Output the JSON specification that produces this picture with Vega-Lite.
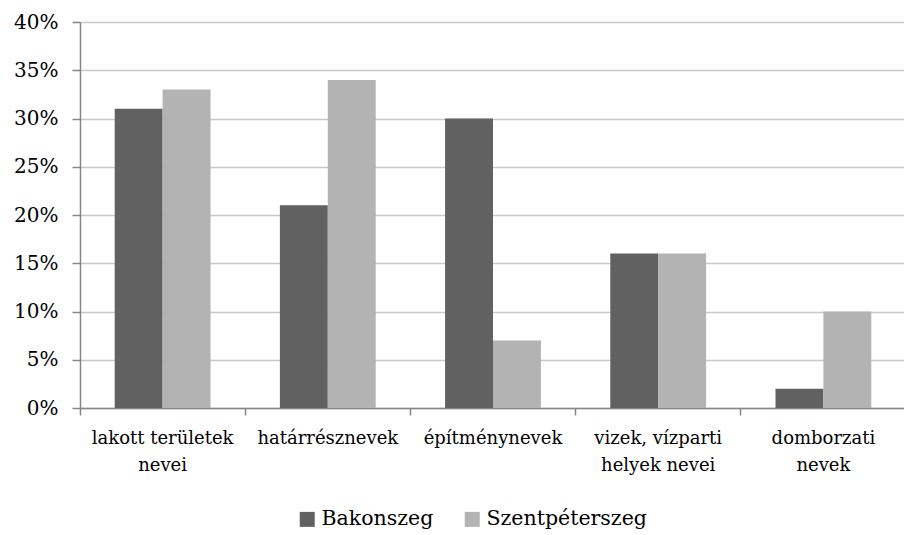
{
  "$schema": "https://vega.github.io/schema/vega-lite/v6.json",
  "width": 826,
  "height": 386,
  "autosize": "none",
  "padding": {"left": 80, "top": 22, "right": 0, "bottom": 127},
  "background": "white",
  "data": {
    "values": [
      {"kategoria": "lakott területek|nevei", "telepules": "Bakonszeg", "ertek": 0.31},
      {"kategoria": "lakott területek|nevei", "telepules": "Szentpéterszeg", "ertek": 0.33},
      {"kategoria": "határrésznevek", "telepules": "Bakonszeg", "ertek": 0.21},
      {"kategoria": "határrésznevek", "telepules": "Szentpéterszeg", "ertek": 0.34},
      {"kategoria": "építménynevek", "telepules": "Bakonszeg", "ertek": 0.30},
      {"kategoria": "építménynevek", "telepules": "Szentpéterszeg", "ertek": 0.07},
      {"kategoria": "vizek, vízparti|helyek nevei", "telepules": "Bakonszeg", "ertek": 0.16},
      {"kategoria": "vizek, vízparti|helyek nevei", "telepules": "Szentpéterszeg", "ertek": 0.16},
      {"kategoria": "domborzati|nevek", "telepules": "Bakonszeg", "ertek": 0.02},
      {"kategoria": "domborzati|nevek", "telepules": "Szentpéterszeg", "ertek": 0.10}
    ]
  },
  "mark": {"type": "bar"},
  "encoding": {
    "x": {
      "field": "kategoria",
      "type": "nominal",
      "sort": null,
      "scale": {"paddingInner": 0.42, "paddingOuter": 0.21},
      "axis": {
        "title": null,
        "labelAngle": 0,
        "labelExpr": "split(datum.value, '|')",
        "labelFontSize": 18,
        "labelLimit": 400,
        "labelColor": "#000000",
        "labelLineHeight": 27,
        "labelPadding": 14,
        "bandPosition": -0.362,
        "tickSize": 7,
        "tickColor": "#868686",
        "domainColor": "#868686",
        "domainWidth": 1.5,
        "tickWidth": 1.5,
        "grid": false
      }
    },
    "xOffset": {"field": "telepules", "type": "nominal", "scale": {"paddingInner": 0, "paddingOuter": 0}},
    "y": {
      "field": "ertek",
      "type": "quantitative",
      "scale": {"domain": [0, 0.4], "nice": false},
      "axis": {
        "title": null,
        "values": [0, 0.05, 0.1, 0.15, 0.2, 0.25, 0.3, 0.35, 0.4],
        "format": ".0%",
        "labelFontSize": 20,
        "labelColor": "#000000",
        "labelPadding": 14,
        "tickSize": 8,
        "tickColor": "#868686",
        "tickWidth": 1.5,
        "domainColor": "#868686",
        "domainWidth": 1.5,
        "gridColor": "#c8c8c8",
        "gridWidth": 1.5
      }
    },
    "color": {
      "field": "telepules",
      "type": "nominal",
      "scale": {"domain": ["Bakonszeg", "Szentpéterszeg"], "range": ["#616161", "#b3b3b3"]},
      "legend": {
        "title": null,
        "orient": "none",
        "legendX": 217,
        "legendY": 487,
        "direction": "horizontal",
        "symbolType": "square",
        "symbolSize": 225,
        "symbolStrokeWidth": 0,
        "labelFontSize": 20.5,
        "labelLimit": 400,
        "labelColor": "#000000",
        "labelOffset": 4,
        "columnPadding": 28
      }
    }
  },
  "config": {
    "view": {"stroke": null},
    "font": "DejaVu Serif",
    "axis": {"labelFont": "DejaVu Serif"},
    "legend": {"labelFont": "DejaVu Serif"}
  }
}
